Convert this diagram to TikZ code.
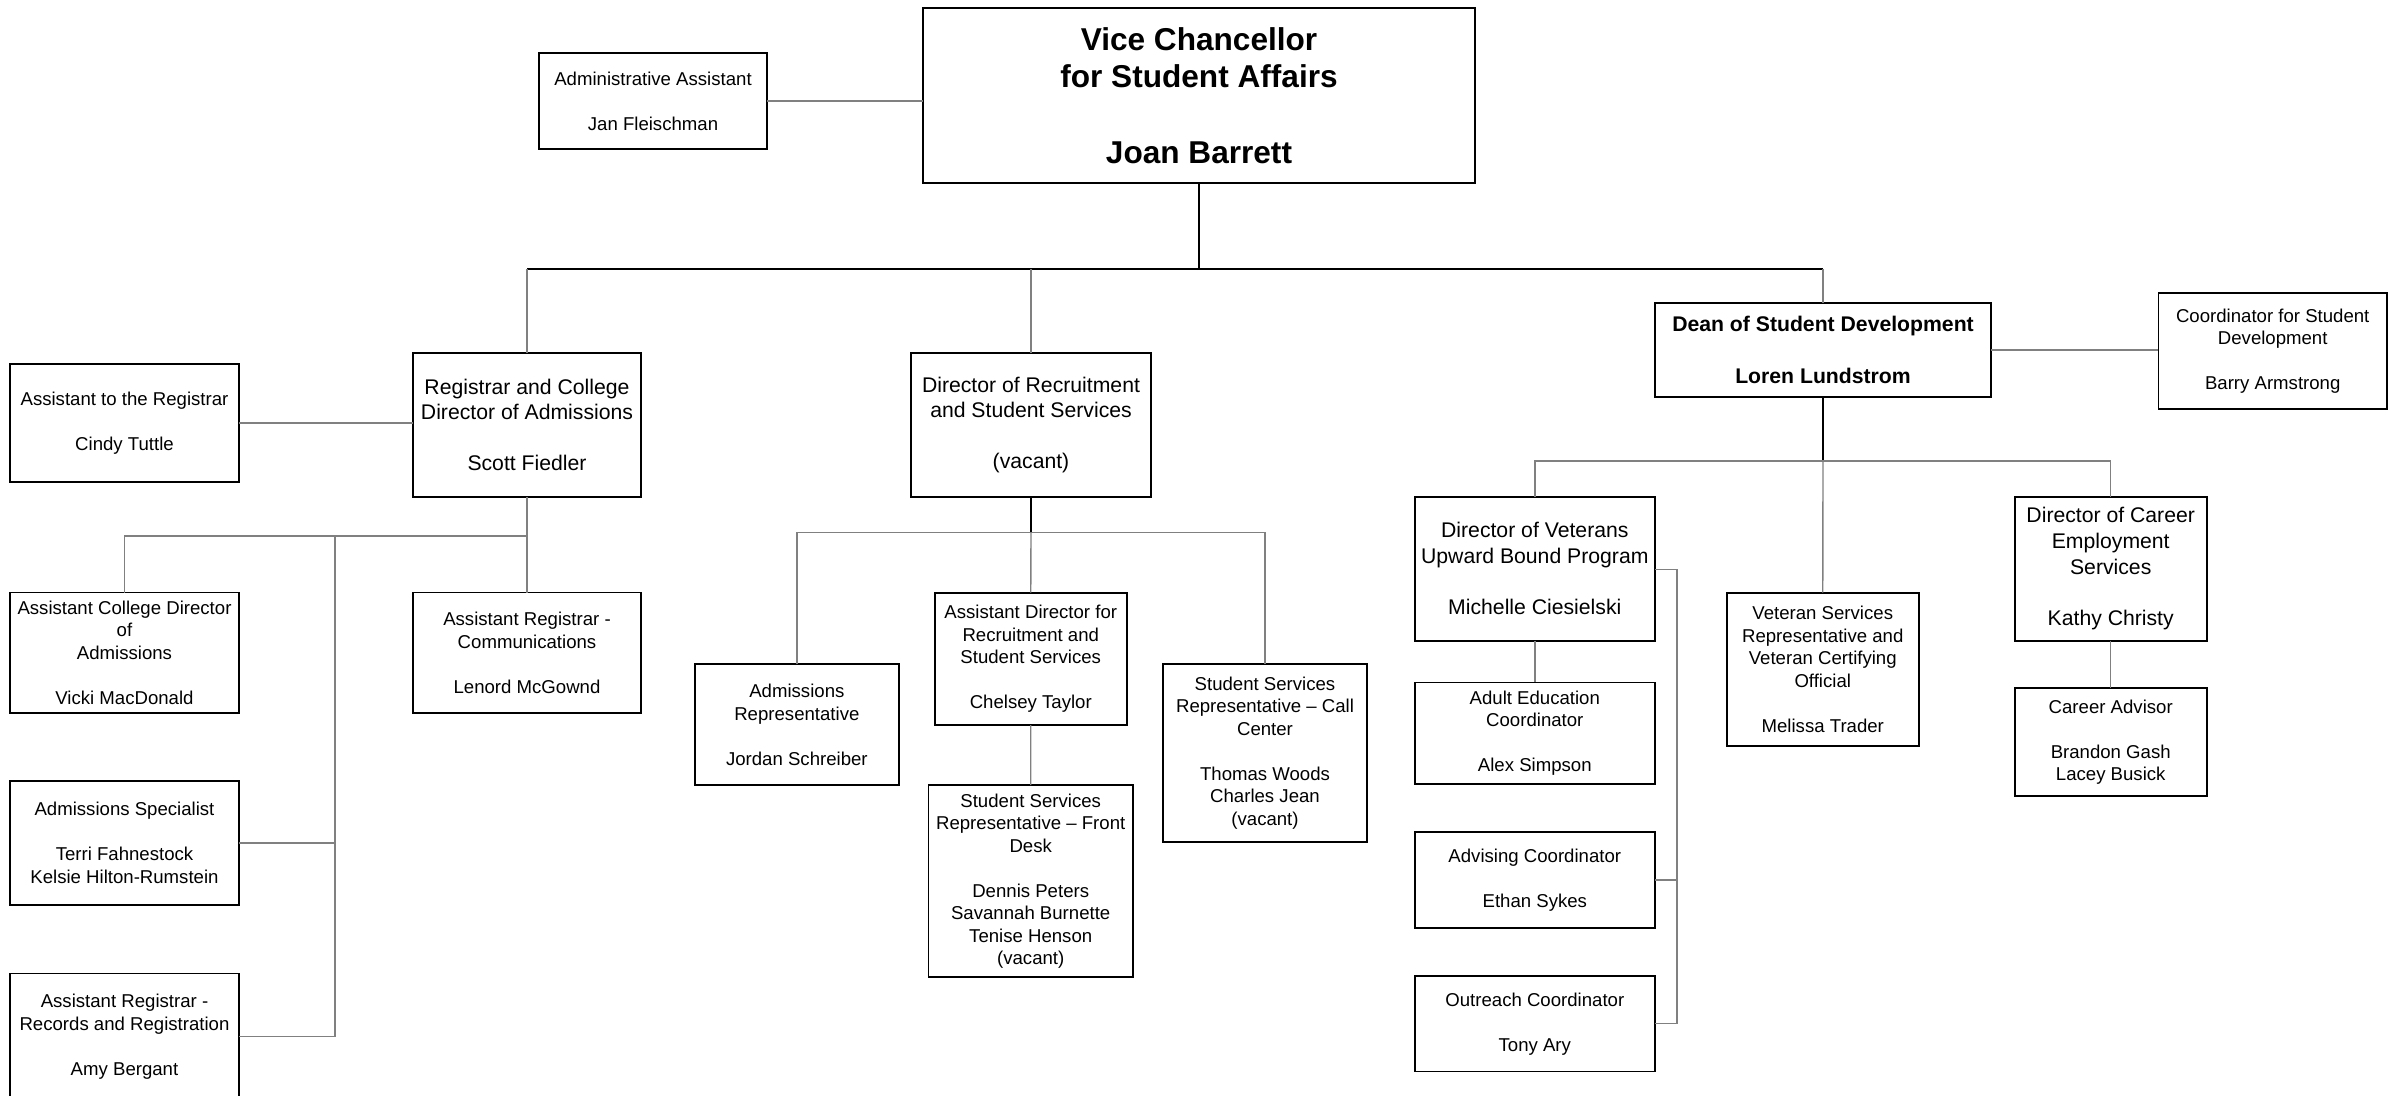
\documentclass[tikz,border=0pt]{standalone}
\usepackage{fontspec}
\setmainfont{Liberation Sans}
\newcommand\txs{\fontsize{9.3}{11.25}\selectfont}
\newcommand\txm{\fontsize{10.6}{12.8}\selectfont}
\newcommand\txl{\fontsize{15.8}{18.8}\selectfont\bfseries}
\definecolor{conn}{HTML}{808080}
\begin{document}
\begin{tikzpicture}[x=0.5pt,y=-0.5pt,
  box/.style={draw, line width=0.9pt, inner sep=0pt, outer sep=0pt, align=center, font=\txs},
  mid/.style={box, font=\txm},
  link/.style={draw=conn, line width=0.7pt},
  mainlink/.style={draw=black, line width=0.8pt}]
\useasboundingbox (0,0) rectangle (2397,1096);
\clip (0,0) rectangle (2397,1096);
\fill[white] (0,0) rectangle (2397,1096);

\node[box, font=\txl, minimum width=276pt, minimum height=87.5pt] (vc) at (1199,95.5) {Vice Chancellor\\for Student Affairs\\[18.8pt]Joan Barrett};
\node[box, minimum width=114pt, minimum height=48pt] (adm) at (653,101) {Administrative Assistant\\[11.25pt]Jan Fleischman};
\node[mid, minimum width=114pt, minimum height=72pt] (reg) at (527,425) {Registrar and College\\Director of Admissions\\[12.8pt]Scott Fiedler};
\node[box, minimum width=114.5pt, minimum height=59pt] (atr) at (124.5,423) {Assistant to the Registrar\\[11.25pt]Cindy Tuttle};
\node[box, minimum width=114.5pt, minimum height=60.25pt] (acd) at (124.5,652.75) {Assistant College Director\\of\\Admissions\\[11.25pt]Vicki MacDonald};
\node[box, minimum width=114pt, minimum height=60.25pt] (arc) at (527,652.75) {Assistant Registrar -\\Communications\\[11.25pt]Lenord McGownd};
\node[box, minimum width=114.5pt, minimum height=62.2pt] (asp) at (124.5,842.8) {Admissions Specialist\\[11.25pt]Terri Fahnestock\\Kelsie Hilton-Rumstein};
\node[box, minimum width=114.5pt, minimum height=63.3pt] (rec) at (124.5,1036.7) {Assistant Registrar -\\Records and Registration\\[11.25pt]Amy Bergant};
\node[mid, minimum width=120pt, minimum height=72pt] (drs) at (1031,425) {Director of Recruitment\\and Student Services\\[12.8pt](vacant)};
\node[box, minimum width=102.15pt, minimum height=60.35pt] (ard) at (796.85,724.65) {Admissions\\Representative\\[11.25pt]Jordan Schreiber};
\node[box, minimum width=95.95pt, minimum height=66.15pt] (ads) at (1030.75,658.85) {Assistant Director for\\Recruitment and\\Student Services\\[11.25pt]Chelsey Taylor};
\node[box, minimum width=102pt, minimum height=88.85pt] (ccs) at (1265,753.15) {Student Services\\Representative – Call\\Center\\[11.25pt]Thomas Woods\\Charles Jean\\(vacant)};
\node[box, minimum width=102.3pt, minimum height=96pt] (fds) at (1030.7,881) {Student Services\\Representative – Front\\Desk\\[11.25pt]Dennis Peters\\Savannah Burnette\\Tenise Henson\\(vacant)};
\node[mid, font=\txm\bfseries, minimum width=168pt, minimum height=47pt] (dean) at (1823,350) {Dean of Student Development\\[13pt]Loren Lundstrom};
\node[box, minimum width=114.3pt, minimum height=58.3pt] (csd) at (2272.7,351) {Coordinator for Student\\Development\\[11.25pt]Barry Armstrong};
\node[mid, minimum width=120.2pt, minimum height=72pt] (dvu) at (1534.8,568.7) {Director of Veterans\\Upward Bound Program\\[12.8pt]Michelle Ciesielski};
\node[box, minimum width=96.15pt, minimum height=76.65pt] (vsr) at (1822.75,669.25) {Veteran Services\\Representative and\\Veteran Certifying\\Official\\[11.25pt]Melissa Trader};
\node[mid, minimum width=96pt, minimum height=72pt] (dce) at (2110.7,568.7) {Director of Career\\Employment\\Services\\[12.8pt]Kathy Christy};
\node[box, minimum width=96pt, minimum height=53.85pt] (cad) at (2110.7,742.15) {Career Advisor\\[11.25pt]Brandon Gash\\Lacey Busick};
\node[box, minimum width=120.2pt, minimum height=50.95pt] (aec) at (1534.8,733.35) {Adult Education\\Coordinator\\[11.25pt]Alex Simpson};
\node[box, minimum width=120.2pt, minimum height=47.9pt] (advc) at (1534.8,879.9) {Advising Coordinator\\[11.25pt]Ethan Sykes};
\node[box, minimum width=120.2pt, minimum height=47.7pt] (orc) at (1534.8,1023.7) {Outreach Coordinator\\[11.25pt]Tony Ary};

\coordinate (top) at (1199,269);
\coordinate (rbus) at (527,536);
\coordinate (rv) at (335,536);
\coordinate (dbus) at (1031,532.7);
\coordinate (ebus) at (1823,461);
\coordinate (vv) at (1677,569.3);

\draw[link] (adm.east) -- (adm.east -| vc.west);
\draw[mainlink] (vc.south) -- (top);
\draw[mainlink] (reg.north |- top) -- (dean.north |- top);
\draw[link] (reg.north |- top) -- (reg.north);
\draw[link] (drs.north |- top) -- (drs.north);
\draw[link] (dean.north |- top) -- (dean.north);
\draw[link] (atr.east) -- (atr.east -| reg.west);
\draw[link] (reg.south) -- (arc.north);
\draw[link] (rbus) -- (acd.north |- rbus) -- (acd.north);
\draw[link] (rv) -- (rv |- rec.east) -- (rec.east);
\draw[link] (asp.east) -- (asp.east -| rv);
\draw[mainlink] (drs.south) -- (dbus);
\draw[link] (dbus) -- (ads.north);
\draw[link] (ard.north) |- (dbus) -| (ccs.north);
\draw[link] (ads.south) -- (fds.north);
\draw[link] (dean.east) -- (dean.east -| csd.west);
\draw[mainlink] (dean.south) -- (ebus);
\draw[link] (ebus) -- (vsr.north);
\draw[link] (dvu.north) |- (ebus) -| (dce.north);
\draw[link] (dvu.south) -- (aec.north);
\draw[link] (dvu.east |- vv) -- (vv) -- (vv |- orc.east) -- (orc.east);
\draw[link] (advc.east) -- (advc.east -| vv);
\draw[link] (dce.south) -- (cad.north);
\end{tikzpicture}
\end{document}
